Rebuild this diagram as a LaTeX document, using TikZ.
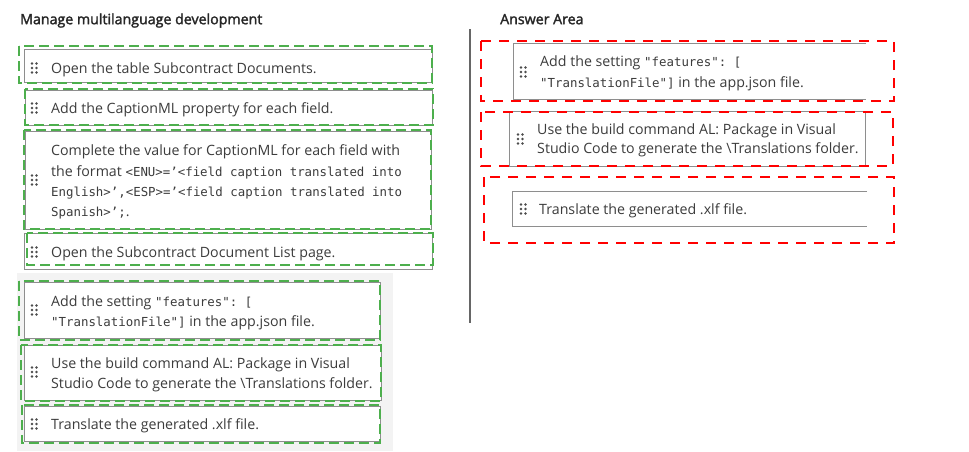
\documentclass[tikz,border=0pt]{standalone}
\usepackage{fontspec}
\setmainfont{Open Sans}
\setmonofont{DejaVu Sans Mono}
\newfontfamily\titlefont[FakeBold=2]{Open Sans}
\usepackage{tikz}

\definecolor{txtgray}{HTML}{3C3C3C}
\definecolor{boxgray}{HTML}{8E8E8E}
\definecolor{panelgray}{HTML}{F3F3F3}
\definecolor{markgreen}{HTML}{4DAF4D}
\definecolor{markred}{HTML}{FF0000}

\newcommand{\code}[1]{{\ttfamily\fontsize{12.4}{16}\selectfont #1}}
\newcommand{\grip}[2]{%
  \foreach \gx in {0,4.5} \foreach \gy in {-4.5,0,4.5}
    \fill[black!70] (#1+\gx, #2+\gy) circle (1.3pt);}

\tikzset{
  itembox/.style={draw=boxgray, line width=0.9pt, fill=white},
  greenmark/.style={draw=markgreen, line width=2.2pt, dash pattern=on 10pt off 5pt},
  redmark/.style={draw=markred, line width=2.6pt, dash pattern=on 10pt off 8pt},
  txt/.style={anchor=west, inner sep=0pt, text height=10.4pt, text depth=0pt,
    text=txtgray, font=\fontsize{14.2}{17}\selectfont},
  head/.style={txt, font=\titlefont\fontsize{14.2}{17}\selectfont, text=black!85},
}

\begin{document}
\begin{tikzpicture}[x=1pt, y=-1pt]
    \useasboundingbox[fill=white] (0, 0) rectangle (969, 451);

    \node[head] (title) at (20, 19) {Manage multilanguage development};
    \node[head] (answer) at (500, 19) {Answer Area};

    % colonne de gauche
    \fill[panelgray] (17, 273) rectangle (393, 451);
    \draw[itembox] (24, 49) rectangle (432, 82);
    \draw[itembox] (25, 90) rectangle (432, 125);
    \draw[itembox] (25, 131) rectangle (431, 229);
    \draw[itembox] (24, 233) rectangle (432, 269);
    \draw[itembox] (24, 282) rectangle (380, 338);
    \draw[itembox] (24, 345) rectangle (381, 400);
    \draw[itembox] (24, 406) rectangle (380, 441);

    \grip{32}{68}
    \grip{32}{108}
    \grip{32}{180}
    \grip{32}{252}
    \grip{32}{310}
    \grip{32}{372}
    \grip{32}{424}

    \node[txt] (open) at (51, 68) {Open the table Subcontract Documents.};
    \node[txt] (caption) at (51, 108) {Add the CaptionML property for each field.};
    \node[txt] (valuea) at (51, 150) {Complete the value for CaptionML for each field with};
    \node[txt] (valueb) at (51, 171) {the format \code{<ENU>=’<field caption translated into}};
    \node[txt] (valuec) at (51, 191) {\code{English>’,<ESP>=’<field caption translated into}};
    \node[txt] (valued) at (51, 211) {\code{Spanish>’;}.};
    \node[txt] (list) at (51, 252) {Open the Subcontract Document List page.};
    \node[txt] (settinga) at (51, 301) {Add the setting \code{"features": [}};
    \node[txt] (settingb) at (51, 321) {\code{"TranslationFile"]} in the app.json file.};
    \node[txt] (builda) at (51, 363) {Use the build command AL: Package in Visual};
    \node[txt] (buildb) at (51, 383) {Studio Code to generate the \textbackslash Translations folder.};
    \node[txt] (xlf) at (51, 424) {Translate the generated .xlf file.};

    % exemple de marques
    \draw[greenmark] (19, 46) rectangle (432, 83);
    \draw[greenmark] (25, 89) rectangle (433, 125);
    \draw[greenmark] (24, 130) rectangle (431, 229);
    \draw[greenmark] (27, 233) rectangle (433, 265);
    \draw[greenmark] (19, 281) rectangle (380, 340);
    \draw[greenmark] (21, 345) rectangle (381, 401);
    \draw[greenmark] (22, 405) rectangle (380, 443);

    % separation
    \draw[draw=black!60, line width=1.5pt] (470, 29) -- (470, 323);

    % zone de reponse
    \fill[white] (513, 43) rectangle (866, 99);
    \draw[itembox] (866, 43) -- (513, 43) -- (513, 99) -- (866, 99);
    \draw[itembox] (509, 111) rectangle (865, 166);
    \fill[white] (512, 191) rectangle (867, 226);
    \draw[itembox] (867, 191) -- (512, 191) -- (512, 226) -- (867, 226);

    \grip{521}{72}
    \grip{518}{139}
    \grip{521}{209}

    \node[txt] (rsettinga) at (540, 61) {Add the setting \code{"features": [}};
    \node[txt] (rsettingb) at (540, 82) {\code{"TranslationFile"]} in the app.json file.};
    \node[txt] (rbuilda) at (537, 129) {Use the build command AL: Package in Visual};
    \node[txt] (rbuildb) at (537, 148) {Studio Code to generate the \textbackslash Translations folder.};
    \node[txt] (rxlf) at (539, 209) {Translate the generated .xlf file.};

    \draw[redmark] (481, 41) rectangle (894, 101);
    \draw[redmark] (481, 112) rectangle (893, 166);
    \draw[redmark] (484, 177) rectangle (894, 243);

  \end{tikzpicture}
\end{document}
